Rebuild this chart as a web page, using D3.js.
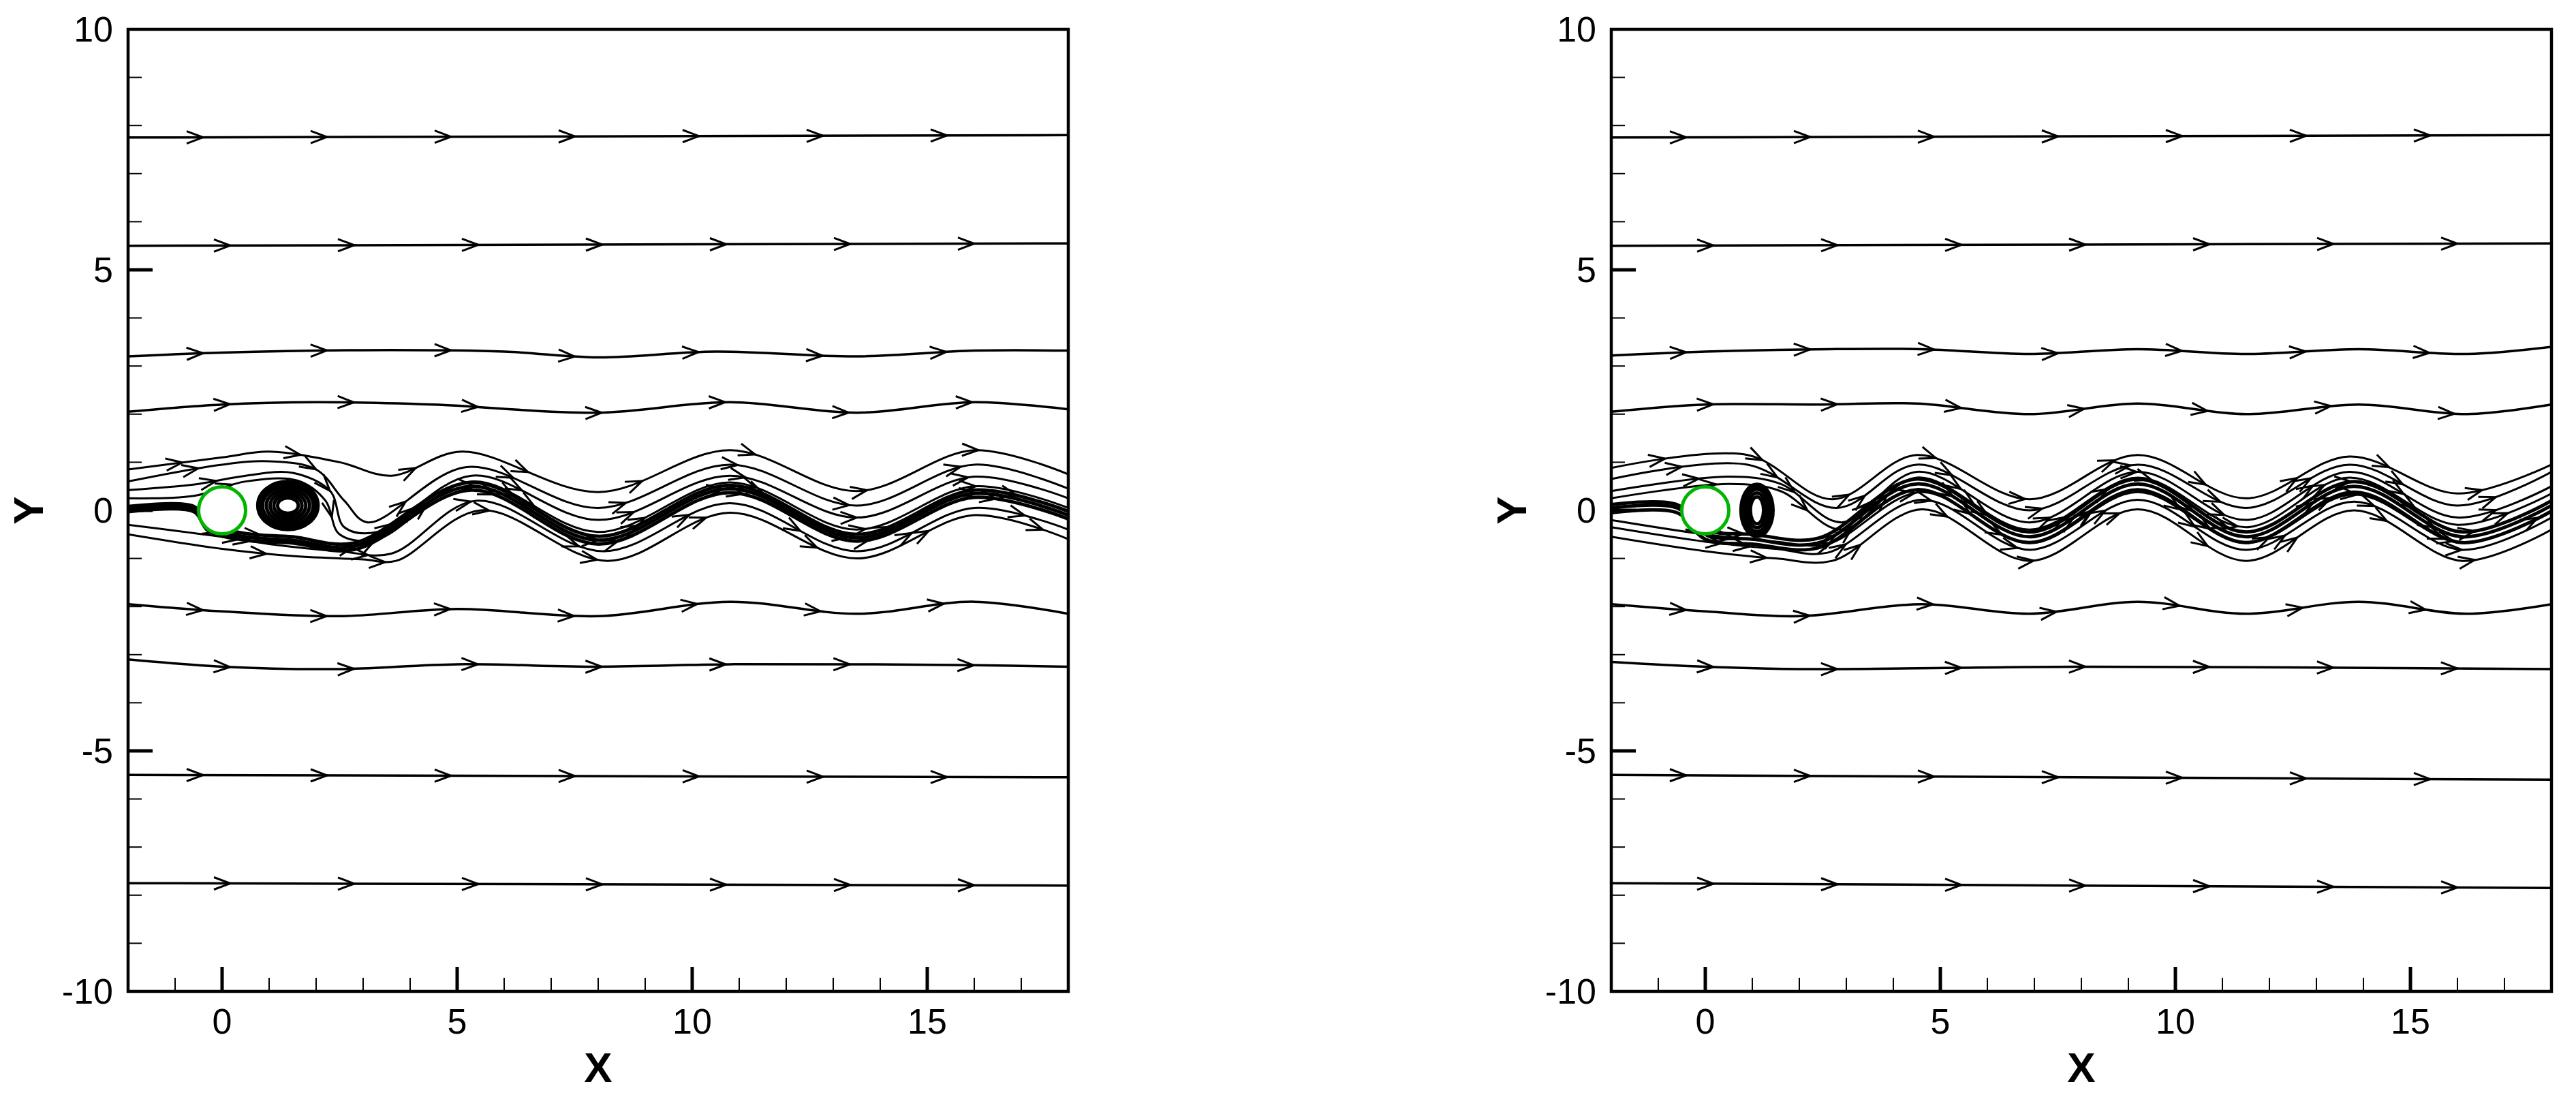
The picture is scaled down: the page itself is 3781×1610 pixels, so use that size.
<!DOCTYPE html>
<html><head><meta charset="utf-8">
<script src="https://cdn.jsdelivr.net/npm/d3@7"></script>
<style>body{margin:0;background:#fff}svg{display:block}</style>
</head><body>
<script>
// ---- data ----
const xTicks = [0, 5, 10, 15];
const yTicks = [-10, -5, 0, 5, 10];
const cylinder = {x: 0, y: 0, r: 0.5};

const leftFar = [
  [[-2,7.75],[18,7.8]],
  [[-2,5.5],[18,5.55]],
  [[-2,3.2],[0,3.28],[3,3.33],[6,3.3],[8,3.18],[10.5,3.3],[13.5,3.2],[16,3.32],[18,3.32]],
  [[-2,2.05],[0,2.2],[2,2.25],[4.5,2.2],[8,2.03],[10.8,2.25],[13.5,2.03],[16,2.25],[18,2.1]],
  [[-2,-1.95],[0,-2.1],[2.5,-2.2],[5,-2.05],[8,-2.2],[10.8,-1.9],[13.5,-2.15],[16,-1.9],[18,-2.15]],
  [[-2,-3.1],[0,-3.25],[2.5,-3.3],[5,-3.2],[8,-3.25],[10.8,-3.2],[13.5,-3.2],[16,-3.22],[18,-3.25]],
  [[-2,-5.5],[18,-5.55]],
  [[-2,-7.75],[18,-7.8]]
];
const leftWake = [
  [[-2,0.85],[0,1.1],[1,1.22],[2.5,1.0],[3.6,0.72],[5.1,1.22],[8,0.38],[10.8,1.25],[13.5,0.4],[16,1.25],[18,0.75]],
  [[-2,0.6],[0,0.95],[1,1.02],[2,0.85],[2.6,0.2],[3.1,-0.25],[5.2,0.9],[8,0.05],[10.8,0.95],[13.5,0.1],[16,0.95],[18,0.45]],
  [[-2,0.42],[-0.5,0.55],[0.5,0.72],[1.5,0.78],[2.3,0.4],[2.6,-0.35],[3.3,-0.45],[5.3,0.72],[8,-0.2],[10.8,0.72],[13.5,-0.15],[16,0.7],[18,0.25]],
  [[-2,0.25],[-0.6,0.3],[0.5,0.6],[1.6,0.62],[2.2,0.2],[2.5,-0.5],[3.3,-0.6],[5.3,0.6],[8,-0.45],[10.8,0.58],[13.5,-0.4],[16,0.5],[18,0.05]],
  [[-2,-0.3],[0,-0.55],[1,-0.7],[2.5,-0.85],[3.6,-0.9],[5.4,0.2],[8.1,-0.85],[10.8,0.15],[13.5,-0.85],[16,0.05],[18,-0.4]],
  [[-2,-0.5],[0,-0.8],[1.5,-0.95],[3,-1.02],[3.7,-1.05],[5.5,0.0],[8.2,-1.05],[10.8,-0.05],[13.5,-1.0],[16,-0.1],[18,-0.6]]
];
const leftBand = [
  [[-2,0.03],[-0.6,0.03],[-0.3,-0.35],[0.5,-0.55],[1.5,-0.62],[2.8,-0.75],[5.3,0.5],[8,-0.62],[10.8,0.45],[13.5,-0.57],[16,0.35],[18,-0.1]],
  [[-2,-0.03],[-0.6,-0.03],[-0.3,-0.42],[0.5,-0.62],[1.5,-0.68],[2.8,-0.82],[5.3,0.42],[8,-0.7],[10.8,0.37],[13.5,-0.64],[16,0.27],[18,-0.18]],
  [[-2,0.08],[-0.6,0.08],[-0.3,-0.28],[0.5,-0.48],[1.5,-0.55],[2.8,-0.68],[5.3,0.58],[8,-0.54],[10.8,0.52],[13.5,-0.5],[16,0.42],[18,-0.02]]
];
const leftEddy = {cx: 1.4, cy: 0.1, rx: [0.22,0.3,0.38,0.46,0.54,0.62], ry: [0.16,0.22,0.28,0.34,0.4,0.48]};

const rightFar = [
  [[-2,7.75],[18,7.8]],
  [[-2,5.5],[18,5.55]],
  [[-2,3.22],[0,3.3],[2.6,3.35],[4.6,3.35],[6.9,3.25],[9.2,3.35],[11.5,3.25],[13.9,3.35],[16.2,3.25],[18,3.4]],
  [[-2,2.05],[0,2.2],[2.5,2.2],[4.5,2.22],[6.9,2.0],[9.2,2.22],[11.5,2.0],[13.9,2.2],[16.2,2.0],[18,2.2]],
  [[-2,-1.95],[0,-2.1],[2,-2.2],[4.6,-1.95],[6.9,-2.15],[9.2,-1.9],[11.5,-2.15],[13.9,-1.9],[16.2,-2.15],[18,-1.95]],
  [[-2,-3.15],[0,-3.25],[2,-3.3],[8,-3.25],[18,-3.3]],
  [[-2,-5.5],[18,-5.6]],
  [[-2,-7.75],[18,-7.85]]
];
const rightWake = [
  [[-2,0.88],[0.9,1.15],[2.7,0.23],[4.5,1.15],[6.9,0.23],[9.2,1.15],[11.5,0.25],[13.7,1.12],[16,0.35],[18,0.95]],
  [[-2,0.65],[0.9,0.95],[2.8,0.05],[4.5,0.95],[6.9,0.0],[9.2,0.95],[11.5,0.05],[13.7,0.95],[16,0.1],[18,0.8]],
  [[-2,0.4],[0.5,0.7],[1.6,0.55],[2.9,-0.25],[4.5,0.8],[6.9,-0.25],[9.2,0.8],[11.5,-0.2],[13.7,0.8],[16,-0.15],[18,0.5]],
  [[-2,0.25],[0.5,0.55],[1.6,0.4],[2.9,-0.4],[4.5,0.68],[6.9,-0.4],[9.2,0.68],[11.5,-0.35],[13.7,0.68],[16,-0.3],[18,0.35]],
  [[-2,-0.2],[0,-0.5],[1.5,-0.65],[2.6,-0.7],[4.6,0.38],[6.9,-0.68],[9.2,0.38],[11.5,-0.68],[13.8,0.33],[16.1,-0.68],[18,0.0]],
  [[-2,-0.35],[0,-0.65],[1.5,-0.8],[2.6,-0.88],[4.6,0.22],[6.9,-0.82],[9.2,0.22],[11.5,-0.82],[13.8,0.18],[16.1,-0.82],[18,-0.15]],
  [[-2,-0.55],[0,-0.85],[1.5,-1.0],[2.7,-1.05],[4.6,0.02],[6.9,-1.05],[9.2,0.02],[11.5,-1.05],[13.8,0.0],[16.1,-1.05],[18,-0.4]]
];
const rightBand = [
  [[-2,0.05],[-0.6,0.05],[0,-0.5],[1,-0.6],[2.4,-0.68],[4.5,0.55],[6.9,-0.55],[9.2,0.55],[11.5,-0.55],[13.8,0.5],[16.1,-0.55],[18,0.1]],
  [[-2,-0.05],[-0.6,-0.05],[0,-0.6],[1,-0.7],[2.4,-0.78],[4.5,0.43],[6.9,-0.67],[9.2,0.43],[11.5,-0.67],[13.8,0.38],[16.1,-0.67],[18,-0.02]],
  [[-2,0.12],[-0.6,0.12],[0,-0.4],[1,-0.5],[2.4,-0.58],[4.5,0.65],[6.9,-0.45],[9.2,0.65],[11.5,-0.45],[13.8,0.6],[16.1,-0.45],[18,0.2]]
];
const rightEddy = {cx: 1.1, cy: 0.0, rx: [0.14,0.2,0.26,0.32], ry: [0.28,0.36,0.44,0.52]};

// ---- drawing ----
const W = 3781, H = 1610;
const svg = d3.select("body").append("svg").attr("width", W).attr("height", H);
const panels = [
  {x0: 188, x1: 1568, far: leftFar, wake: leftWake, band: leftBand, eddy: leftEddy},
  {x0: 2365, x1: 3745, far: rightFar, wake: rightWake, band: rightBand, eddy: rightEddy}
];
const pTop = 43, pBottom = 1455;
const FONT = "Liberation Sans, Arial, sans-serif";

panels.forEach((p, i) => {
  const x = d3.scaleLinear().domain([-2, 18]).range([p.x0, p.x1]);
  const y = d3.scaleLinear().domain([-10, 10]).range([pBottom, pTop]);
  const g = svg.append("g");
  const cid = "clip" + i;
  svg.append("clipPath").attr("id", cid).append("rect")
    .attr("x", p.x0).attr("y", pTop).attr("width", p.x1 - p.x0).attr("height", pBottom - pTop);
  const plot = g.append("g").attr("clip-path", `url(#${cid})`);
  const line = d3.line().x(d => x(d[0])).y(d => y(d[1])).curve(d3.curveCatmullRom.alpha(0.5));

  function stream(pts, sw, arrowStart, arrowStep) {
    const path = plot.append("path").attr("d", line(pts)).attr("fill", "none")
      .attr("stroke", "#000").attr("stroke-width", sw);
    const node = path.node(), L = node.getTotalLength();
    for (let s = arrowStart; s < L - 20; s += arrowStep) {
      const a = node.getPointAtLength(s), b = node.getPointAtLength(s + 2);
      const ang = Math.atan2(b.y - a.y, b.x - a.x) * 180 / Math.PI;
      plot.append("path").attr("d", "M-24,-9L0,0L-24,9").attr("fill", "none")
        .attr("stroke", "#000").attr("stroke-width", 3)
        .attr("transform", `translate(${a.x},${a.y}) rotate(${ang})`);
    }
  }
  p.far.forEach((l, k) => stream(l, 3.5, 110 + (k % 2) * 40, 182));
  p.wake.forEach((l, k) => stream(l, 3, 80 + k * 25, 175 + (i ? -30 : 0)));
  p.band.forEach((l, k) => stream(l, 5, 150 + k * 30, 200));
  p.eddy.rx.forEach((rx, k) => {
    plot.append("ellipse").attr("cx", x(p.eddy.cx)).attr("cy", y(p.eddy.cy))
      .attr("rx", x(rx) - x(0)).attr("ry", y(0) - y(p.eddy.ry[k]))
      .attr("fill", "none").attr("stroke", "#000").attr("stroke-width", k === p.eddy.rx.length - 1 ? 8 : 5);
  });
  plot.append("circle").attr("cx", x(cylinder.x)).attr("cy", y(cylinder.y))
    .attr("r", x(cylinder.r) - x(0)).attr("fill", "#fff").attr("stroke", "#00b400").attr("stroke-width", 5);

  g.append("rect").attr("x", p.x0).attr("y", pTop).attr("width", p.x1 - p.x0).attr("height", pBottom - pTop)
    .attr("fill", "none").attr("stroke", "#000").attr("stroke-width", 4.5);
  d3.range(-1, 18).forEach(v => {
    const major = v % 5 === 0;
    g.append("line").attr("x1", x(v)).attr("x2", x(v)).attr("y1", pBottom).attr("y2", pBottom - (major ? 36 : 20))
      .attr("stroke", "#000").attr("stroke-width", major ? 5 : 2);
  });
  xTicks.forEach(v => g.append("text").attr("x", x(v)).attr("y", pBottom + 62).attr("text-anchor", "middle")
    .attr("font-family", FONT).attr("font-size", 52).text(v));
  d3.range(-9, 10).forEach(v => {
    const major = v % 5 === 0;
    g.append("line").attr("x1", p.x0).attr("x2", p.x0 + (major ? 36 : 20)).attr("y1", y(v)).attr("y2", y(v))
      .attr("stroke", "#000").attr("stroke-width", major ? 5 : 2);
  });
  yTicks.forEach(v => g.append("text").attr("x", p.x0 - 22).attr("y", y(v) + 18).attr("text-anchor", "end")
    .attr("font-family", FONT).attr("font-size", 52).text(v));
  g.append("text").attr("x", (p.x0 + p.x1) / 2).attr("y", pBottom + 133).attr("text-anchor", "middle")
    .attr("font-family", FONT).attr("font-weight", "bold").attr("font-size", 62).text("X");
  g.append("text").attr("transform", `translate(${p.x0 - 125},${y(0)}) rotate(-90)`).attr("text-anchor", "middle")
    .attr("font-family", FONT).attr("font-weight", "bold").attr("font-size", 62).text("Y");
});
</script>
</body></html>
